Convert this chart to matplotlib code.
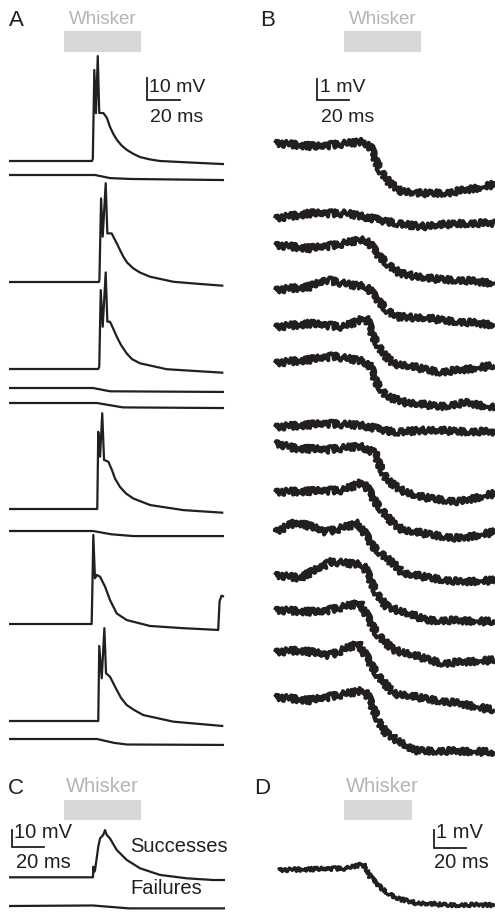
import matplotlib
matplotlib.use("Agg")
import matplotlib.pyplot as plt
from matplotlib.patches import Rectangle

plt.rcParams['font.family'] = ['Liberation Sans', 'DejaVu Sans']

# ---- panel A : whole-cell traces (t in ms, v in mV above each trace's baseline)
a1_t = [0, 50.3, 50.8, 51.7, 52.7, 53.8, 54.7, 57.2, 59.4, 61.2, 63.3, 65.5, 68.3, 71.5, 75.5, 79.4, 85.5, 91.5, 115.8, 130.3]
a1_v = [0, 0, 1, 41.4, 21.7, 47.7, 21.8, 21.8, 19.5, 15.5, 12.2, 9.5, 7, 5, 3.2, 1.8, 0.7, 0, -0.9, -1.4]
a2_t = [0, 52.1, 61.2, 73.3, 130.3]
a2_v = [0, 0, -1.4, -1.8, -2.3]
a3_t = [0, 54.5, 54.8, 55.8, 56.8, 58.6, 59.6, 62.2, 65.3, 67.3, 69.3, 71.5, 75.3, 79.4, 85.5, 99.6, 115.8, 129.9]
a3_v = [0, 0, 1, 38, 20.6, 44.9, 22.1, 22.1, 17.6, 14.5, 11.5, 8.9, 6.2, 4.3, 2.4, 0.1, -0.9, -1.7]
a4_t = [0, 54.1, 54.7, 55.6, 56.8, 58.6, 59.6, 61.2, 63, 65.3, 67.9, 71.3, 74.5, 79.4, 95.6, 129.9]
a4_v = [0, 0, 1, 35.9, 19.2, 43.9, 21.5, 21.5, 18.6, 14.7, 10.9, 7.1, 4.5, 2.6, -0.1, -1.7]
a5_t = [0, 50.9, 61.2, 130.3]
a5_v = [0, 0, -1.5, -1.8]
a6_t = [0, 53.3, 69.1, 130.3]
a6_v = [0, 0, -2, -2.3]
a7_t = [0, 53.5, 54.1, 55.2, 56.5, 57.6, 60.2, 62.4, 64.2, 67.3, 71, 75.3, 85.5, 105.6, 129.9]
a7_v = [0, 0, 35.1, 23.8, 43.5, 22.3, 21.5, 17.7, 13.9, 10, 7, 4.8, 1.8, -0.5, -1.7]
a8_t = [0, 50.9, 62, 75.3, 130.3]
a8_v = [0, 0, -1.5, -2.3, -2.3]
a9_t = [0, 50.1, 50.5, 51.1, 52.1, 53.2, 55.2, 58.2, 61.2, 65.3, 71.3, 85.5, 105.6, 126.8, 127.6, 128.8, 130.3]
a9_v = [0, 0, 15, 40.5, 20.8, 22.3, 21.5, 17, 10.9, 4.8, 1.8, -0.9, -1.9, -2.7, 10.2, 12.9, 12.4]
a10_t = [0, 54.1, 54.7, 56.2, 57.8, 58.8, 61.2, 65.3, 67.9, 71.3, 75.8, 81.4, 99.6, 129.9]
a10_v = [0, 0, 34.1, 19.4, 42.2, 21.7, 20.1, 14.1, 10.5, 7.3, 5.0, 2.7, -0.3, -2.3]
a11_t = [0, 53.3, 64, 71.5, 130.3]
a11_v = [0, 0, -1.8, -2.5, -2.7]

# ---- panel B : dendritic traces
b1_t = [0, 26, 55.2, 59.4, 65.6, 71.9, 78.1, 88.5, 109.4, 130.2, 137.5]
b1_v = [0, -0.17, 0.06, -0.17, -1.29, -1.92, -2.28, -2.4, -2.36, -2.1, -1.95]
b2_t = [0, 21.9, 44.8, 69.8, 90.6, 115.6, 137.5]
b2_v = [-0.06, 0.17, 0.17, -0.22, -0.46, -0.3, -0.3]
b3_t = [0, 21.9, 38.5, 53.1, 58.3, 63.5, 69.8, 78.1, 94.8, 115.6, 137.5]
b3_v = [0, -0.16, 0, 0.24, 0.16, -0.40, -0.87, -1.35, -1.59, -1.67, -1.83]
b4_t = [0, 21.9, 32.3, 46.9, 57.3, 62.5, 69.8, 76.1, 94.8, 115.6, 137.5]
b4_v = [0, 0.16, 0.48, 0.24, 0.16, -0.32, -0.95, -1.27, -1.35, -1.51, -1.67]
b5_t = [0, 21.9, 42.7, 53.1, 56.9, 61.5, 67.7, 73.9, 86.4, 103.1, 115.6, 137.5]
b5_v = [0, 0.16, 0, 0.32, 0.48, -0.48, -1.27, -1.75, -1.90, -2.14, -2.06, -1.83]
b6_t = [0, 21.9, 36.5, 55.2, 59.4, 63.5, 69.8, 82.3, 103.1, 119.8, 137.5]
b6_v = [0, 0.16, 0.32, 0.08, -0.16, -0.95, -1.59, -1.90, -2.06, -1.90, -2.14]
b7_t = [0, 32.3, 53.1, 73.9, 94.8, 137.5]
b7_v = [0, 0.16, 0.08, -0.24, -0.16, -0.24]
b8_t = [0, 11.5, 32.3, 53.1, 62.5, 65.6, 70, 78.1, 88.5, 115.6, 137.5]
b8_v = [0, -0.24, -0.32, -0.16, -0.48, -1.1, -1.75, -2.22, -2.54, -2.8, -2.4]
b9_t = [0, 42.7, 55.2, 63.5, 73.9, 80.2, 115.6, 137.5]
b9_v = [0, 0.08, 0.48, -0.56, -1.51, -1.83, -2.22, -1.90]
b10_t = [0, 13.5, 32.3, 52.1, 61.5, 73.9, 80.2, 115.6, 137.5]
b10_v = [0, 0.48, 0, 0.40, -0.71, -1.51, -1.98, -2.38, -2.30]
b11_t = [0, 15.6, 35.4, 55.2, 63.5, 69.8, 94.8, 137.5]
b11_v = [0, -0.14, 0.63, 0.48, -0.87, -1.51, -2.14, -2.22]
b12_t = [0, 28.1, 53.1, 63.5, 73.9, 105.2, 137.5]
b12_v = [0, -0.1, 0.32, -1.11, -1.90, -2.54, -2.38]
b13_t = [0, 15.6, 34.4, 52.1, 63.5, 73.9, 115.6, 137.5]
b13_v = [0, 0.08, -0.16, 0.40, -1.03, -1.98, -2.46, -2.78]
b14_t = [0, 21.9, 56.3, 65.6, 69.8, 86.4, 137.5]
b14_v = [0, -0.16, 0.32, -1.27, -1.75, -2.54, -2.62]

# ---- panel C : averaged successes / failures
c_succ_t = [0, 52.5, 52.7, 53.3, 53.8, 55.8, 56.9, 58.9, 60, 61.1, 63.1, 67.3, 73.6, 81.9, 94.4, 111.1, 127.7, 135]
c_succ_v = [0, 0, 6.2, 3.3, 4.3, 18, 22.9, 24.9, 27.8, 24.9, 22.9, 16.1, 10.2, 5.3, 1.4, -0.6, -1.6, -1.6]
c_fail_t = [0, 52.5, 75, 135]
c_fail_v = [0, 0.3, -1.4, -1.4]

# ---- panel D : averaged dendritic response
d_t = [0, 42.8, 51.1, 54.2, 57.3, 65.6, 74, 86.5, 107.3, 135.4]
d_v = [0, 0.09, 0.28, 0.22, -0.37, -1.11, -1.57, -1.85, -1.94, -1.94]

# whisker stimulus windows (ms)
stim_A = (33.3, 80.0)
stim_B = (43.1, 91.3)
stim_C = (34.4, 82.5)
stim_D = (41.1, 83.4)

# ---- layout (pixels)
W, H = 495, 919
INK = '#231f20'
GREY_TXT = '#b4b4b6'
GREY_BAR = '#d8d8da'

fig = plt.figure(figsize=(W / 100, H / 100), dpi=100)


def make_panel(x0, y0, x1, y1, t0px, sx, sy):
    # axes over a pixel box; x in ms (0 at pixel t0px), y in mV (0 at box top)
    ax = fig.add_axes([x0 / W, 1 - y1 / H, (x1 - x0) / W, (y1 - y0) / H])
    ax.set_xlim((x0 - t0px) / sx, (x1 - t0px) / sx)
    ax.set_ylim(-(y1 - y0) / sy, 0)
    ax.set_axis_off()
    ax.px = (x0, y0, t0px, sx, sy)
    return ax


def ypx(ax, p):
    x0, y0, t0px, sx, sy = ax.px
    return -(p - y0) / sy


def xpx(ax, p):
    x0, y0, t0px, sx, sy = ax.px
    return (p - t0px) / sx


def trace(ax, t, v, row, lw=1.4, noise=None):
    off = ypx(ax, row)
    ln, = ax.plot(t, [vv + off for vv in v], color=INK, lw=lw,
                  solid_joinstyle='round', solid_capstyle='butt')
    if noise:
        ln.set_sketch_params(*noise)
    return ln


def whisker(ax, stim, top, bot, xc, ytxt, fs):
    ax.add_patch(Rectangle((stim[0], ypx(ax, bot)), stim[1] - stim[0],
                           ypx(ax, top) - ypx(ax, bot), color=GREY_BAR, lw=0))
    fig.text(xc / W, 1 - ytxt / H, 'Whisker', color=GREY_TXT, fontsize=fs,
             ha='center', va='center')


def scalebar(ax, cx, cy, dv, dt):
    t = xpx(ax, cx)
    v = ypx(ax, cy)
    ax.plot([t, t, t + dt], [v + dv, v, v], color=INK, lw=1.3,
            solid_joinstyle='miter', clip_on=False)


def label(x, y, s, fs=14, ha='left'):
    fig.text(x / W, 1 - y / H, s, color=INK, fontsize=fs, ha=ha, va='center')


# ---------------- A
axA = make_panel(0, 0, 250, 770, 9, 1.65, 2.2)
A_traces = [(a1_t, a1_v), (a2_t, a2_v), (a3_t, a3_v), (a4_t, a4_v), (a5_t, a5_v),
            (a6_t, a6_v), (a7_t, a7_v), (a8_t, a8_v), (a9_t, a9_v), (a10_t, a10_v),
            (a11_t, a11_v)]
A_rows = [161, 175, 282, 369, 388, 403, 509, 531, 624, 721, 739]
for (t, v), r in zip(A_traces, A_rows):
    trace(axA, t, v, r, lw=1.6)
whisker(axA, stim_A, 31, 52, 102.5, 19, 13.5)
scalebar(axA, 147, 100, 10, 20)
label(149, 87, '10 mV')
label(177, 118, '20 ms', ha='center')
label(16, 20, 'A', fs=16, ha='center')

# ---------------- B
axB = make_panel(250, 0, 495, 770, 275, 1.6, 21)
B_traces = [(b1_t, b1_v), (b2_t, b2_v), (b3_t, b3_v), (b4_t, b4_v), (b5_t, b5_v),
            (b6_t, b6_v), (b7_t, b7_v), (b8_t, b8_v), (b9_t, b9_v), (b10_t, b10_v),
            (b11_t, b11_v), (b12_t, b12_v), (b13_t, b13_v), (b14_t, b14_v)]
B_rows = [143, 217, 245, 290, 327, 363, 427, 443, 492, 532, 575, 610, 652, 697]
for (t, v), r in zip(B_traces, B_rows):
    trace(axB, t, v, r, lw=2.9, noise=(3.2, 0.4, 4))
whisker(axB, stim_B, 31, 52, 382.5, 19, 13.5)
scalebar(axB, 317, 100, 1, 20)
label(320, 87, '1 mV')
label(321, 117, '20 ms')
label(268, 20, 'B', fs=16, ha='center')

# ---------------- C
axC = make_panel(0, 770, 250, 919, 9, 1.6, 1.7)
trace(axC, c_succ_t, c_succ_v, 877.3, lw=1.6)
trace(axC, c_fail_t, c_fail_v, 906, lw=1.6)
whisker(axC, stim_C, 800, 820, 102.5, 787, 14.5)
scalebar(axC, 11.7, 847, 10, 20)
label(14, 833, '10 mV', fs=14.5)
label(16, 863, '20 ms', fs=14.5)
label(130, 847, 'Successes', fs=14.5)
label(130, 888, 'Failures', fs=14.5)
label(16, 788, 'C', fs=16, ha='center')

# ---------------- D
axD = make_panel(250, 770, 495, 919, 278.3, 1.6, 18)
trace(axD, d_t, d_v, 870, lw=2.4, noise=(1.8, 0.4, 4))
whisker(axD, stim_D, 800, 820, 382, 787, 14.5)
scalebar(axD, 434, 848, 1, 20)
label(436, 833, '1 mV', fs=14.5)
label(434, 863, '20 ms', fs=14.5)
label(262, 788, 'D', fs=16, ha='center')

fig.savefig('out.png', dpi=100)
